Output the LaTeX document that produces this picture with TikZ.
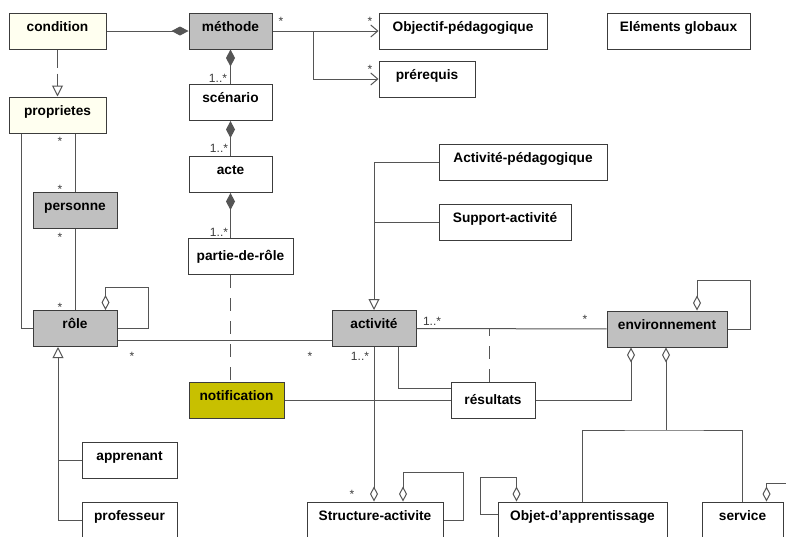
\documentclass[tikz,border=0pt]{standalone}
\usepackage{fontspec}
\setmainfont{Liberation Sans}
\usetikzlibrary{arrows.meta}
\definecolor{umlgray}{RGB}{192,192,192}
\definecolor{umlcream}{RGB}{255,255,240}
\definecolor{umlolive}{RGB}{200,192,0}
\definecolor{umlline}{RGB}{85,85,85}
\definecolor{umlborder}{RGB}{60,60,60}
\begin{document}
\begin{tikzpicture}[x=1pt, y=-1pt, line width=1pt, color=umlline,
  box/.style={draw=umlborder, text=black, inner sep=0pt, minimum height=36pt,
    font=\fontsize{13.7}{16}\selectfont\bfseries},
  cls/.style={box, text height=9pt, text depth=9pt},
  mult/.style={text=umlborder, inner sep=0pt, anchor=base,
    font=\fontsize{12}{14}\selectfont},
  comp/.style={arrows={Diamond[length=17pt,width=9pt]}-},
  agg/.style={arrows={Diamond[open,length=15pt,width=8pt]}-},
  gen/.style={arrows=-{Triangle[open,length=11pt,width=11pt]}},
  nav/.style={arrows=-{Straight Barb[length=7pt,width=12pt]}},
  dep/.style={dash pattern=on 18pt off 6pt},
  deplong/.style={dash pattern=on 13pt off 10pt}]
  \fill[white] (0,0) rectangle (786,536);
  \useasboundingbox (0,0) rectangle (786,536);
  \foreach \n/\x/\y/\w/\f/\s/\t in {
      condition/57.5/31/97/umlcream/cls/condition,
      methode/230.5/31/83/umlgray/cls/méthode,
      objectif/463/31/168/white/cls/Objectif-pédagogique,
      elements/678.5/31/143/white/cls/Eléments globaux,
      prerequis/427/79/96/white/cls/prérequis,
      proprietes/57.5/115/97/umlcream/cls/proprietes,
      scenario/230.5/102.5/83/white/cls/scénario,
      acte/230.5/174.5/83/white/cls/acte,
      partie/240.5/256.5/105/white/box/partie-de-rôle,
      personne/75/210/84/umlgray/cls/personne,
      role/75/328.5/84/umlgray/cls/rôle,
      actped/523/162/168/white/cls/Activité-pédagogique,
      support/505/222/132/white/cls/Support-activité,
      activite/374/328.5/84/umlgray/cls/activité,
      environnement/667/329/120/umlgray/cls/environnement,
      notification/236.5/400/95/umlolive/cls/notification,
      resultats/493/400/84/white/box/résultats,
      apprenant/129.5/460/95/white/cls/apprenant,
      professeur/129.5/520/95/white/cls/professeur,
      structure/375/520/136/white/cls/Structure-activite,
      objet/582.5/520/169/white/cls/Objet-d’apprentissage,
      service/742.5/520/81/white/cls/service}
    \node[\s, fill=\f, minimum width=\w] (\n) at (\x,\y) {\t};
  \foreach \x/\y/\t [count=\i] in {281/25/*, 370/25/*, 370/73/*, 218/82/1..*,
      219/152/1..*, 219/236/1..*, 60/145/*, 60/193/*, 60/241/*, 60/311/*,
      132/360/*, 310/360/*, 360/360/1..*, 432/325/1..*, 585/323/*, 352/498/*}
    \node[mult] (m\i) at (\x,\y) {\t};
  \coordinate (gtrunk) at ([xshift=-17pt]role.south);
  \coordinate (split) at (666,430);
  \draw[comp] (methode) -- (condition);
  \draw[dep, gen] (condition) -- (proprietes);
  \draw[nav] (methode) -- (objectif);
  \draw[nav] ([xshift=41pt]methode.east) |- (prerequis);
  \draw[comp] (methode) -- (scenario);
  \draw[comp] (scenario) -- (acte);
  \draw[comp] (acte) -- (acte.south |- partie.north);
  \draw[deplong] (acte.south |- partie.south) -- (acte.south |- notification.north);
  \draw (personne) -- (personne |- proprietes.south);
  \draw (personne) -- (role);
  \draw ([xshift=13pt]proprietes.south west) |- (role);
  \draw[agg] ([xshift=-12pt]role.north east) -- ++(0,-23) -| ([xshift=31pt]role.east) -- (role.east);
  \draw ([yshift=-12pt]role.east) -- ([yshift=-12pt]activite.west);
  \draw[gen] (professeur) -| (gtrunk);
  \draw (apprenant) -- (apprenant -| gtrunk);
  \draw[gen] (actped) -| (activite);
  \draw (support) -- (support -| activite);
  \draw (activite) -- (environnement);
  \draw[deplong] ([xshift=-4pt]resultats.north) -- ([xshift=-4pt]resultats.north |- activite);
  \draw ([xshift=24pt]activite.south) |- ([yshift=12pt]resultats.west);
  \draw (notification) -- (resultats);
  \draw[agg] ([xshift=-36pt]environnement.south) |- (resultats);
  \draw[agg] ([xshift=30pt]environnement.north) -- ++(0,-30) -| ([xshift=23pt]environnement.east) -- (environnement.east);
  \draw[agg] (environnement.south -| split) -- (split);
  \draw (objet) |- (split) -| (service);
  \draw[agg] (structure.north -| activite) -- (activite);
  \draw[agg] ([xshift=28pt]structure.north) -- ++(0,-29) -| ([xshift=20pt]structure.east) -- (structure.east);
  \draw[agg] ([xshift=19pt]objet.north west) -- ++(0,-24) -| ([xshift=-17pt,yshift=6pt]objet.west) -- ([yshift=6pt]objet.west);
  \draw[agg] ([xshift=65pt]service.north west) -- ++(0,-18) -- ++(40,0);
\end{tikzpicture}
\end{document}
